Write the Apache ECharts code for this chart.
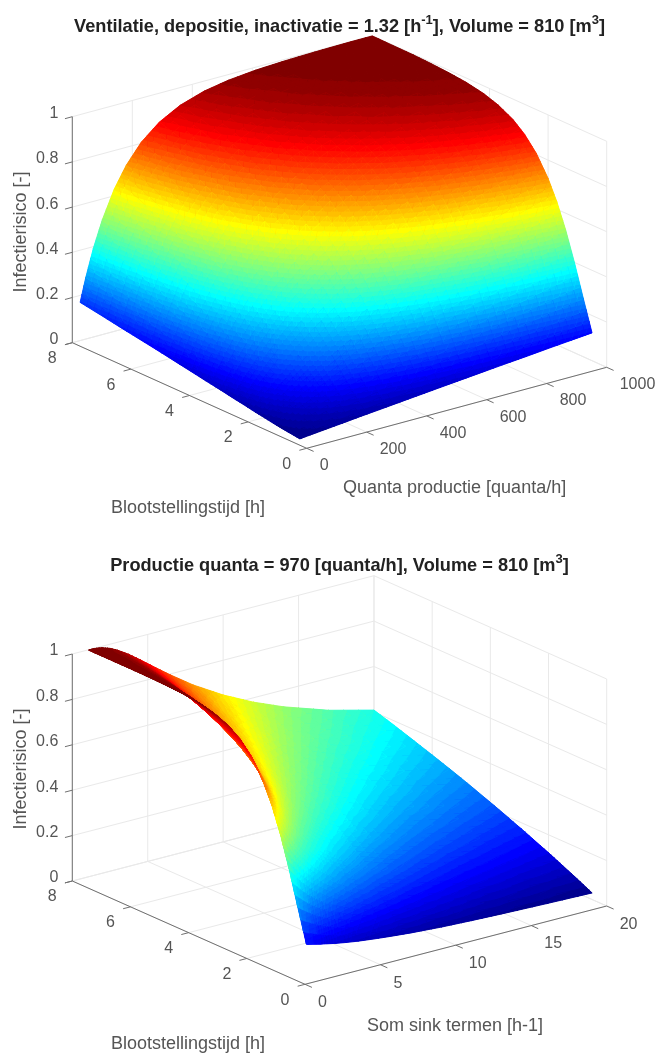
<!DOCTYPE html>
<html><head><meta charset="utf-8">
<style>html,body{margin:0;padding:0;background:#fff}#c{width:658px;height:1054px}</style>
<script src="https://cdn.jsdelivr.net/npm/echarts@6/dist/echarts.min.js"></script>
</head><body><div id="c"></div>
<script>
// ---- Data ----
var exposureHours=[.5,.8,1.1,1.4,1.7,2,2.4,2.8,3.2,3.7,4.2,4.8,5.4,6,6.6,7.3,8];
var quantaRates=[26,45,70,100,140,180,230,290,360,440,520,610,700,780,860,930,1000];
var sinkTerms=[1.06,1.2,1.4,1.7,2,2.5,3,3.7,4.5,5.5,6.5,8,10,12,14,17,20];
// rows: exposureHours, columns: quantaRates
var riskByQuanta=[
[.003,.006,.009,.013,.018,.023,.030,.037,.046,.056,.066,.077,.088,.097,.107,.115,.123],
[.008,.013,.021,.030,.041,.053,.067,.083,.102,.124,.144,.167,.189,.209,.227,.243,.259],
[.013,.023,.035,.050,.069,.088,.111,.137,.168,.201,.233,.267,.300,.328,.355,.377,.399],
[.019,.033,.051,.072,.099,.126,.158,.195,.236,.280,.322,.366,.407,.441,.474,.501,.526],
[.026,.044,.068,.095,.131,.165,.206,.252,.303,.357,.406,.457,.504,.542,.578,.606,.633],
[.032,.056,.085,.119,.163,.204,.253,.308,.367,.428,.484,.539,.589,.629,.665,.693,.719],
[.042,.071,.109,.151,.205,.256,.314,.379,.446,.514,.574,.632,.683,.722,.756,.783,.806],
[.051,.087,.132,.183,.246,.305,.372,.443,.517,.589,.650,.708,.757,.793,.824,.847,.867],
[.061,.103,.155,.214,.286,.351,.425,.502,.579,.653,.714,.769,.814,.847,.874,.893,.910],
[.072,.122,.183,.251,.333,.406,.485,.567,.647,.720,.777,.828,.868,.895,.917,.932,.944],
[.084,.141,.210,.287,.377,.455,.540,.624,.703,.774,.827,.873,.906,.928,.945,.957,.966],
[.098,.163,.242,.327,.426,.510,.598,.683,.760,.825,.873,.911,.938,.955,.967,.975,.981],
[.112,.185,.273,.366,.471,.559,.649,.733,.806,.865,.906,.938,.959,.971,.980,.985,.989],
[.125,.206,.302,.402,.513,.603,.693,.775,.843,.896,.931,.956,.973,.982,.988,.992,.994],
[.138,.227,.330,.436,.551,.643,.732,.810,.873,.919,.949,.970,.982,.989,.993,.995,.997],
[.154,.251,.362,.473,.592,.685,.771,.844,.901,.940,.964,.980,.989,.993,.996,.997,.998],
[.169,.273,.392,.508,.630,.721,.805,.872,.922,.956,.975,.987,.993,.996,.998,.999,.999]];
// rows: exposureHours, columns: sinkTerms
var riskBySink=[
[.130,.127,.124,.119,.114,.107,.100,.092,.084,.076,.069,.060,.051,.045,.040,.034,.029],
[.277,.269,.259,.245,.232,.213,.196,.176,.157,.138,.123,.105,.088,.076,.066,.056,.048],
[.429,.415,.398,.373,.351,.318,.290,.257,.227,.197,.174,.148,.123,.106,.092,.077,.067],
[.565,.547,.523,.489,.458,.413,.375,.331,.292,.253,.223,.189,.157,.135,.117,.099,.085],
[.678,.657,.628,.588,.551,.497,.452,.399,.351,.305,.269,.228,.190,.163,.142,.119,.103],
[.766,.744,.714,.670,.630,.570,.519,.460,.406,.353,.312,.266,.221,.190,.166,.140,.121],
[.851,.830,.800,.756,.715,.652,.596,.531,.471,.412,.366,.312,.261,.225,.197,.166,.143],
[.906,.888,.861,.820,.780,.718,.661,.594,.530,.466,.415,.356,.299,.258,.226,.191,.166],
[.942,.927,.904,.868,.831,.771,.716,.648,.582,.515,.461,.397,.335,.290,.255,.216,.187],
[.968,.957,.940,.910,.878,.824,.772,.705,.639,.569,.513,.445,.378,.328,.289,.246,.214],
[.983,.975,.962,.939,.913,.865,.817,.753,.688,.618,.559,.489,.417,.364,.322,.274,.239],
[.992,.987,.979,.962,.941,.902,.859,.801,.738,.669,.610,.537,.462,.404,.359,.307,.269],
[.996,.993,.988,.976,.960,.928,.892,.839,.780,.713,.655,.580,.502,.442,.394,.339,.297],
[.998,.997,.993,.985,.973,.948,.917,.870,.816,.752,.694,.620,.540,.478,.427,.369,.324],
[.999,.998,.996,.991,.982,.962,.936,.895,.845,.785,.729,.656,.575,.511,.459,.398,.350],
[.999,.999,.998,.994,.989,.974,.953,.918,.874,.818,.765,.693,.613,.547,.493,.429,.380],
[.999,.999,.999,.997,.993,.982,.965,.936,.897,.846,.796,.726,.647,.581,.526,.459,.408]];
var riskTicks=[0,.2,.4,.6,.8,1];
var riskTickLabels=['0','0.2','0.4','0.6','0.8','1'];
var exposureTicks=[0,2,4,6,8];
var quantaTicks=[0,200,400,600,800,1000];
var sinkTicks=[0,5,10,15,20];
var TITLE_TOP=['Ventilatie, depositie, inactivatie = 1.32 [h','-1','], Volume = 810 [m','3',']'];
var TITLE_BOTTOM=['Productie quanta = 970 [quanta/h], Volume = 810 [m','3',']'];

// ---- 3D box projections (orthographic, like the MATLAB view) ----
var plots=[
 {o:[306.7,448.3],xv:[300,-81],tv:[-234.4,-105.6],zh:226,xMax:1000,xs:quantaRates,xTicks:quantaTicks,risk:riskByQuanta,xDy:17.5,
  xName:'Quanta productie [quanta/h]',xNamePos:[343,488],tNamePos:[111,508],zNamePos:[21,232],zMin:.003,zMax:.999},
 {o:[305,984.3],xv:[301.7,-78.3],tv:[-232.7,-103.3],zh:227,xMax:20,xs:sinkTerms,xTicks:sinkTicks,risk:riskBySink,xDy:18.5,
  xName:'Som sink termen [h-1]',xNamePos:[367,1026],tNamePos:[111,1044.5],zNamePos:[21,769],zMin:.029,zMax:.999}
];
var tMax=8;
function project(p,x,t,z){
  var a=x/p.xMax,b=t/tMax;
  return [p.o[0]+a*p.xv[0]+b*p.tv[0], p.o[1]+a*p.xv[1]+b*p.tv[1]-z*p.zh];
}
function depth(p,x,t,z){return .53*x/p.xMax+.69*t/tMax-.49*z;}

// MATLAB jet(64)
function jetRamp(i){
  if(i<1||i>47) return 0;
  if(i<=16) return i/16;
  if(i<=31) return 1;
  return (48-i)/16;
}
var jet=[];
for(var ji=1;ji<=64;ji++){
  var rr=jetRamp(ji-24),gg=jetRamp(ji-8),bb=jetRamp(ji+8);
  jet.push('rgb('+Math.round(rr*255)+','+Math.round(gg*255)+','+Math.round(bb*255)+')');
}

// ---- Surface: each table cell is shaded into colormap bands ----
var SUB=3;
// keep the part of a polygon with sign*(z-level)>=0; vertex = [sx,sy,z,depth]
function clip(poly,level,sign){
  var out=[];
  for(var i=0;i<poly.length;i++){
    var a=poly[i],b=poly[(i+1)%poly.length];
    var da=sign*(a[2]-level),db=sign*(b[2]-level);
    if(da>=0) out.push(a);
    if((da>=0)!==(db>=0)){
      var f=da/(da-db);
      out.push([a[0]+(b[0]-a[0])*f,a[1]+(b[1]-a[1])*f,a[2]+(b[2]-a[2])*f,a[3]+(b[3]-a[3])*f]);
    }
  }
  return out;
}
function surfaceData(p){
  var out=[],xs=p.xs,ts=exposureHours,R=p.risk,span=p.zMax-p.zMin;
  function ev(i,j,a,b){
    var z=(1-a)*(1-b)*R[j][i]+a*(1-b)*R[j][i+1]+(1-a)*b*R[j+1][i]+a*b*R[j+1][i+1];
    var x=xs[i]+(xs[i+1]-xs[i])*a,t=ts[j]+(ts[j+1]-ts[j])*b,q=project(p,x,t,z);
    return [q[0],q[1],z,depth(p,x,t,z)];
  }
  function band(z){return Math.min(63,Math.max(0,Math.floor((z-p.zMin)/span*64)));}
  function push(poly,k,key,stroked){
    var row=[];
    for(var m=0;m<5;m++){var v=poly[Math.min(m,poly.length-1)];row.push(v[0],v[1]);}
    row.push(k,key,stroked);
    out.push(row);
  }
  function addTri(tri){
    var zs=tri.map(function(v){return v[2];});
    var key=(tri[0][3]+tri[1][3]+tri[2][3])/3;
    var k0=band(Math.min.apply(null,zs)),k1=band(Math.max.apply(null,zs));
    // stroked underlay closes the hairline seams, bands go on top of it
    push(tri,band((zs[0]+zs[1]+zs[2])/3),key,1);
    for(var k=k0;k<=k1;k++){
      var poly=tri;
      if(k>k0) poly=clip(poly,p.zMin+k*span/64,1);
      if(k<k1) poly=clip(poly,p.zMin+(k+1)*span/64,-1);
      if(poly.length<3) continue;
      push(poly,k,key,0);
    }
  }
  for(var j=0;j<ts.length-1;j++)for(var i=0;i<xs.length-1;i++)
   for(var m=0;m<SUB;m++)for(var n=0;n<SUB;n++){
    var a=ev(i,j,m/SUB,n/SUB),b=ev(i,j,(m+1)/SUB,n/SUB),c=ev(i,j,(m+1)/SUB,(n+1)/SUB),d=ev(i,j,m/SUB,(n+1)/SUB);
    addTri([a,b,c]);addTri([a,c,d]);
   }
  out.sort(function(a,b){return b[11]-a[11];});
  return out;
}
function renderPatch(params,api){
  var pts=[];
  for(var k=0;k<5;k++)pts.push(api.coord([api.value(2*k),api.value(2*k+1)]));
  var col=jet[api.value(10)];
  var stroked=api.value(12)===1;
  return {type:'polygon',shape:{points:pts},style:{fill:col,stroke:stroked?col:null,lineWidth:stroked?.9:0,lineJoin:'round'},silent:true};
}

// ---- Frame: walls, floor grid, axes, ticks ----
function seg(p,a,b,kind){var u=project(p,a[0],a[1],a[2]),v=project(p,b[0],b[1],b[2]);return [u[0],u[1],v[0],v[1],kind];}
function gridLines(p){
  var L=[];
  p.xTicks.forEach(function(x){
    L.push(seg(p,[x,tMax,0],[x,tMax,1],0));
    L.push(seg(p,[x,0,0],[x,tMax,0],0));
  });
  exposureTicks.forEach(function(t){
    L.push(seg(p,[p.xMax,t,0],[p.xMax,t,1],0));
    L.push(seg(p,[0,t,0],[p.xMax,t,0],0));
  });
  riskTicks.forEach(function(z){
    L.push(seg(p,[0,tMax,z],[p.xMax,tMax,z],0));
    L.push(seg(p,[p.xMax,0,z],[p.xMax,tMax,z],0));
  });
  return L;
}
function axisLines(p){
  var L=[];
  L.push(seg(p,[0,tMax,0],[0,tMax,1],1));
  L.push(seg(p,[0,0,0],[0,tMax,0],1));
  L.push(seg(p,[0,0,0],[p.xMax,0,0],1));
  var xl=Math.hypot(p.xv[0],p.xv[1]),tl=Math.hypot(p.tv[0],p.tv[1]),len=7.6;
  var dxp=[-p.xv[0]/xl*len,-p.xv[1]/xl*len],dtp=[-p.tv[0]/tl*len,-p.tv[1]/tl*len];
  riskTicks.forEach(function(z){var a=project(p,0,tMax,z);L.push([a[0],a[1],a[0]+dxp[0],a[1]+dxp[1],1]);});
  exposureTicks.forEach(function(t){var a=project(p,0,t,0);L.push([a[0],a[1],a[0]+dxp[0],a[1]+dxp[1],1]);});
  p.xTicks.forEach(function(x){var a=project(p,x,0,0);L.push([a[0],a[1],a[0]+dtp[0],a[1]+dtp[1],1]);});
  return L;
}
function renderSeg(params,api){
  var a=api.coord([api.value(0),api.value(1)]),b=api.coord([api.value(2),api.value(3)]);
  var axis=api.value(4)===1;
  return {type:'line',shape:{x1:a[0],y1:a[1],x2:b[0],y2:b[1]},
    style:{stroke:axis?'#707070':'#e9e9e9',lineWidth:1},silent:true};
}

// ---- Text ----
var labels=[];
function addLabel(x,y,text,align,size,rot){labels.push({x:x,y:y,text:text,align:align,size:size,rot:rot||0});}
plots.forEach(function(p){
  riskTicks.forEach(function(z,i){var a=project(p,0,tMax,z);addLabel(a[0]-14,a[1]-3,riskTickLabels[i],'right',16);});
  exposureTicks.forEach(function(t){var a=project(p,0,t,0);addLabel(a[0]-20,a[1]+16,String(t),'center',16);});
  p.xTicks.forEach(function(x){var a=project(p,x,0,0);addLabel(a[0]+13,a[1]+p.xDy,String(x),'left',16);});
  addLabel(p.xNamePos[0],p.xNamePos[1],p.xName,'left',18);
  addLabel(p.tNamePos[0],p.tNamePos[1],'Blootstellingstijd [h]','left',18);
  addLabel(p.zNamePos[0],p.zNamePos[1],'Infectierisico [-]','center',18,Math.PI/2);
});
function renderLabel(params,api){
  var l=labels[params.dataIndex],c=api.coord([api.value(0),api.value(1)]);
  return {type:'text',x:c[0],y:c[1],rotation:l.rot,silent:true,
    style:{text:l.text,fill:'#555555',font:l.size+'px "Liberation Sans"',textAlign:l.align,textVerticalAlign:'middle',align:l.align,verticalAlign:'middle'}};
}
function titleOption(parts,top){
  var txt=parts.map(function(s,i){return i%2===0?'{b|'+s+'}':'{s|'+s+'}';}).join('');
  return {text:txt,left:334.5,top:top,textAlign:'center',textStyle:{rich:{
    b:{fontFamily:'Liberation Sans',fontSize:18.2,fontWeight:'bold',color:'#222',lineHeight:22,verticalAlign:'bottom'},
    s:{fontFamily:'Liberation Sans',fontSize:13,fontWeight:'bold',color:'#222',lineHeight:22,padding:[0,0,9,0],verticalAlign:'bottom'}}}};
}

var series=[];
function common(){return {type:'custom',coordinateSystem:'cartesian2d',silent:true,animation:false,clip:false,progressive:0,encode:{x:0,y:1}};}
plots.forEach(function(p){
  series.push(Object.assign(common(),{name:'grid',data:gridLines(p),renderItem:renderSeg}));
});
plots.forEach(function(p){
  series.push(Object.assign(common(),{name:'Infectierisico',data:surfaceData(p),renderItem:renderPatch}));
});
plots.forEach(function(p){
  series.push(Object.assign(common(),{name:'axes',data:axisLines(p),renderItem:renderSeg}));
});
series.push(Object.assign(common(),{name:'labels',data:labels.map(function(l){return [l.x,l.y];}),renderItem:renderLabel}));

var chart=echarts.init(document.getElementById('c'),null,{renderer:'canvas',width:658,height:1054});
chart.setOption({
  animation:false,backgroundColor:'#fff',
  title:[titleOption(TITLE_TOP,9),titleOption(TITLE_BOTTOM,548)],
  grid:{left:0,top:0,width:658,height:1054,containLabel:false},
  xAxis:{type:'value',min:0,max:658,show:false},
  yAxis:{type:'value',min:0,max:1054,inverse:true,show:false},
  tooltip:{show:false},
  series:series
});
</script></body></html>
